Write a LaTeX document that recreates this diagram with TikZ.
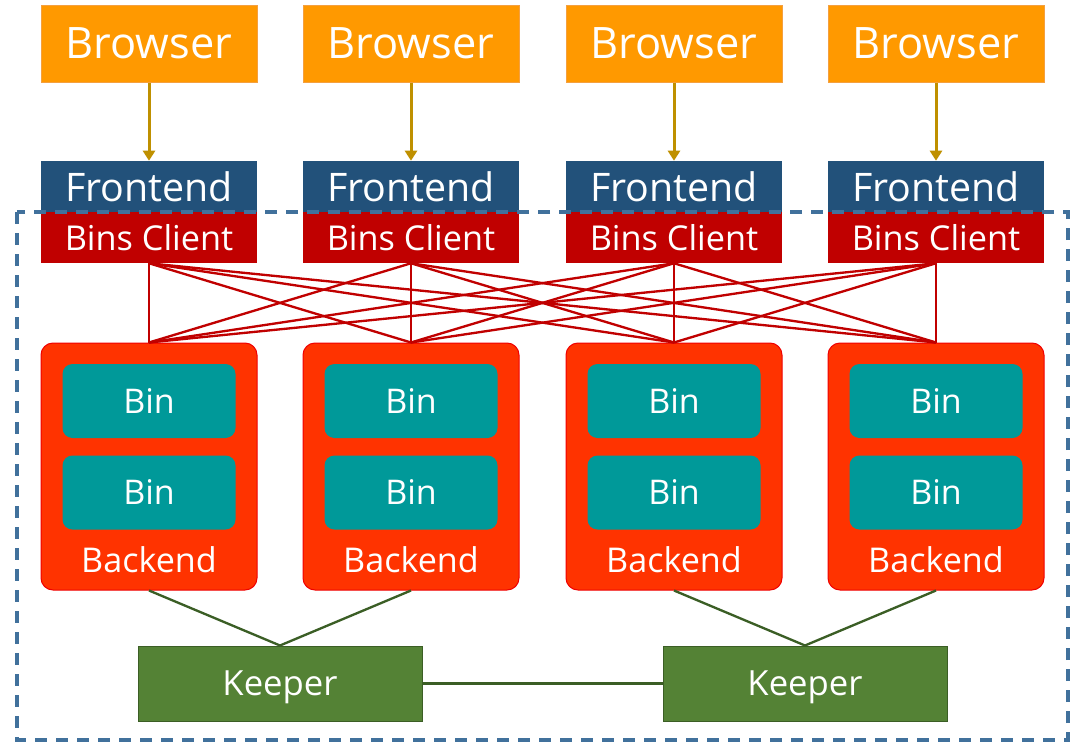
\documentclass[tikz,border=0pt]{standalone}
\usepackage{fontspec}
\setmainfont{Open Sans}
\usetikzlibrary{arrows.meta}

\definecolor{browserfill}{HTML}{FF9900}
\definecolor{browserline}{HTML}{F4A040}
\definecolor{frontfill}{HTML}{22517A}
\definecolor{clientfill}{HTML}{C00000}
\definecolor{backfill}{HTML}{FF3300}
\definecolor{backline}{HTML}{F00000}
\definecolor{binfill}{HTML}{009999}
\definecolor{keeperfill}{HTML}{548235}
\definecolor{keeperline}{HTML}{3B5E25}
\definecolor{feedline}{HTML}{BF9000}
\definecolor{zoneline}{HTML}{41719C}

\begin{document}
\begin{tikzpicture}[
  x=0.75pt, y=-0.75pt,
  box/.style={rectangle, inner sep=0pt, text=white, text depth=0pt},
  browser/.style={box, fill=browserfill, draw=browserline, line width=0.75pt,
    minimum width=162pt, minimum height=57.75pt, font=\fontsize{32.5}{36}\selectfont},
  frontend/.style={box, fill=frontfill, minimum width=162pt, minimum height=38.25pt,
    font=\fontsize{29.5}{32}\selectfont},
  client/.style={box, fill=clientfill, minimum width=162pt, minimum height=38.25pt,
    font=\fontsize{25.7}{28}\selectfont},
  backend/.style={box, fill=backfill, draw=backline, line width=0.75pt, rounded corners=9pt,
    minimum width=162pt, minimum height=185.25pt},
  bin/.style={box, fill=binfill, rounded corners=7.5pt, minimum width=129.75pt,
    minimum height=55.5pt, font=\fontsize{25.5}{30}\selectfont},
  backlabel/.style={box, font=\fontsize{25.6}{30}\selectfont},
  keeper/.style={box, fill=keeperfill, draw=keeperline, line width=0.75pt,
    minimum width=213pt, minimum height=56.25pt, font=\fontsize{26}{30}\selectfont},
  feed/.style={draw=feedline, line width=2.25pt, -{Triangle[width=9pt,length=7.5pt]}},
  mesh/.style={draw=clientfill, line width=1.75pt},
  link/.style={draw=keeperline, line width=1.75pt},
  zone/.style={draw=zoneline, line width=2.4pt, dash pattern=on 9pt off 6.75pt},
]
\useasboundingbox (0,0) rectangle (1076,750);

% columns: browser, frontend, bins client, backend with two bins
\foreach \i/\x in {1/149,2/411,3/674,4/936} {
  \node[browser] (browser \i) at (\x,43.5) {Browser};
  \node[frontend] (frontend \i) at (\x,186.5) {Frontend};
  \node[client] (client \i) at (\x,237.5) {Bins Client};
  \node[backend] (backend \i) at (\x,466.5) {};
  \node[bin] (bin \i-1) at (\x,401) {Bin};
  \node[bin] (bin \i-2) at (\x,492.5) {Bin};
  \node[backlabel] (label \i) at (\x,560) {Backend};
  \draw[feed] (browser \i) -- (frontend \i);
}

% every client talks to every backend
\foreach \i in {1,...,4}
  \foreach \j in {1,...,4}
    \draw[mesh] (client \i.south) -- (backend \j.north);

% keepers
\node[keeper] (keeper 1) at (280,683.5) {Keeper};
\node[keeper] (keeper 2) at (805,683.5) {Keeper};
\draw[link] (backend 1.south) -- (keeper 1.north);
\draw[link] (backend 2.south) -- (keeper 1.north);
\draw[link] (backend 3.south) -- (keeper 2.north);
\draw[link] (backend 4.south) -- (keeper 2.north);
\draw[link] (keeper 1) -- (keeper 2);

% storage zone
\coordinate (zone nw) at (17,212);
\coordinate (zone se) at (1068,740);
\draw[zone] (zone nw) rectangle (zone se);
\end{tikzpicture}
\end{document}
